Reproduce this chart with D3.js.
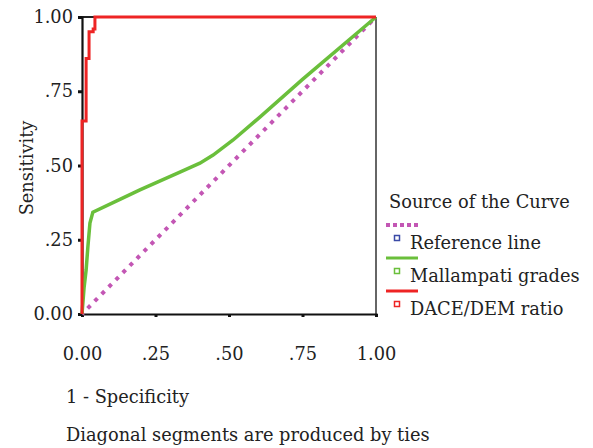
<!DOCTYPE html>
<meta charset="utf-8">
<style>
body { margin: 0; background: #fff; }
text { font-family: "DejaVu Serif", serif; fill: #222; }
</style>
<body>
<script src="https://d3js.org/d3.v7.min.js"></script>
<script>

// axis ticks
var tickValues = [0, 0.25, 0.5, 0.75, 1];
var tickLabels = ["0.00", ".25", ".50", ".75", "1.00"];

// DACE/DEM ratio curve (1 - specificity, sensitivity)
var daceX = [0, 0, 0.014, 0.014, 0.024, 0.024, 0.038, 0.038, 0.044, 0.044, 1];
var daceY = [0, 0.65, 0.65, 0.86, 0.86, 0.95, 0.95, 0.96, 0.96, 1, 1];

// Mallampati grades curve
var mallX = [0, 0.007, 0.014, 0.02, 0.027, 0.037, 0.129, 0.197, 0.333, 0.401, 0.446, 0.514, 0.605, 0.75, 1];
var mallY = [0, 0.088, 0.148, 0.226, 0.306, 0.343, 0.386, 0.418, 0.478, 0.508, 0.535, 0.586, 0.663, 0.79, 1];

// reference diagonal
var refX = [0, 1];
var refY = [0, 1];

var legendNames = ["Reference line", "Mallampati grades", "DACE/DEM ratio"];
var legendColors = ["#c356b4", "#6abf3b", "#ee2424"];
var markerColors = ["#3a4aa6", "#6abf3b", "#ee2424"];

var fontSize = "17.8px";

var svg = d3.select("body").append("svg")
    .attr("width", 593)
    .attr("height", 448);

var x = d3.scaleLinear().domain([0, 1]).range([82, 376]);
var y = d3.scaleLinear().domain([0, 1]).range([314, 17]);

var line = d3.line()
    .x(function(d) { return x(d[0]); })
    .y(function(d) { return y(d[1]); });

// frame
svg.append("line").attr("x1", 376).attr("x2", 376).attr("y1", y(1)).attr("y2", y(0))
    .attr("stroke", "#666").attr("stroke-width", 2);
svg.append("line").attr("x1", x(0)).attr("x2", x(1)).attr("y1", y(1)).attr("y2", y(1))
    .attr("stroke", "#222").attr("stroke-width", 2);

// y axis
var yAxis = svg.append("g")
    .attr("transform", "translate(" + x(0) + ",0)")
    .call(d3.axisLeft(y).tickValues(tickValues).tickSize(4).tickPadding(5)
        .tickFormat(function(d, i) { return tickLabels[i]; }));
yAxis.select(".domain").attr("stroke", "#111").attr("stroke-width", 2.2);
yAxis.selectAll(".tick line").attr("stroke", "#111").attr("stroke-width", 3);
yAxis.selectAll(".tick text")
    .style("font-family", "DejaVu Serif").style("font-size", fontSize).attr("fill", "#333");

// x axis
var xAxis = svg.append("g")
    .attr("transform", "translate(0," + y(0) + ")")
    .call(d3.axisBottom(x).tickValues(tickValues).tickSize(3).tickPadding(30)
        .tickFormat(function(d, i) { return tickLabels[i]; }));
xAxis.select(".domain").attr("stroke", "#111").attr("stroke-width", 2.2);
xAxis.selectAll(".tick line").attr("stroke", "#111").attr("stroke-width", 3);
xAxis.selectAll(".tick text")
    .style("font-family", "DejaVu Serif").style("font-size", fontSize).attr("fill", "#333");

// curves
svg.append("path")
    .datum(d3.zip(refX, refY))
    .attr("d", line)
    .attr("fill", "none")
    .attr("stroke", legendColors[0])
    .attr("stroke-width", 4)
    .attr("stroke-dasharray", "4,6")
    .attr("stroke-dashoffset", -8);

svg.append("path")
    .datum(d3.zip(mallX, mallY))
    .attr("d", line)
    .attr("fill", "none")
    .attr("stroke", legendColors[1])
    .attr("stroke-width", 3.5);

svg.append("path")
    .datum(d3.zip(daceX, daceY))
    .attr("d", line)
    .attr("fill", "none")
    .attr("stroke", legendColors[2])
    .attr("stroke-width", 3);

// axis titles
svg.append("text")
    .attr("transform", "translate(33,168) rotate(-90)")
    .style("text-anchor", "middle")
    .style("font-size", fontSize)
    .text("Sensitivity");

svg.append("text")
    .attr("x", 66).attr("y", 403)
    .style("font-size", fontSize)
    .text("1 - Specificity");

svg.append("text")
    .attr("x", 66).attr("y", 441)
    .style("font-size", fontSize)
    .text("Diagonal segments are produced by ties");

// legend
svg.append("text")
    .attr("x", 389).attr("y", 208)
    .style("font-size", fontSize)
    .text("Source of the Curve");

var leg = svg.selectAll(".leg")
    .data(legendNames)
    .enter().append("g")
    .attr("class", "leg")
    .attr("transform", function(d, i) { return "translate(0," + (i * 33) + ")"; });

leg.append("line")
    .attr("x1", 386).attr("x2", 418).attr("y1", 225).attr("y2", 225)
    .attr("stroke", function(d, i) { return legendColors[i]; })
    .attr("stroke-width", function(d, i) { return i === 0 ? 4 : 3; })
    .attr("stroke-dasharray", function(d, i) { return i === 0 ? "4,3" : null; });

leg.append("rect")
    .attr("x", 394.5).attr("y", 235.5).attr("width", 5).attr("height", 5)
    .attr("fill", "#fff")
    .attr("stroke", function(d, i) { return markerColors[i]; })
    .attr("stroke-width", 1.5);

leg.append("text")
    .attr("x", 410).attr("y", 249)
    .style("font-size", fontSize)
    .text(function(d) { return d; });

</script>
</body>
